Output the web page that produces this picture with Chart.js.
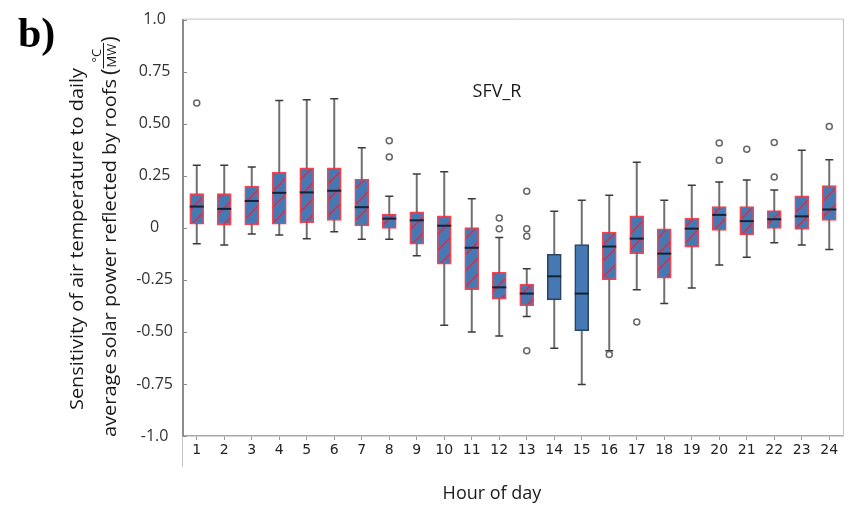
<!DOCTYPE html>
<html>
<head>
<meta charset="utf-8">
<script src="https://cdn.jsdelivr.net/npm/chart.js@4.4.1/dist/chart.umd.min.js"></script>
<style>
  body { margin: 0; background: #fff; }
  #wrap { width: 852px; height: 508px; }
</style>
</head>
<body>
<div id="wrap"><canvas id="boxChart" width="852" height="508"></canvas></div>
<script>
// hours of day
const hours = ['1','2','3','4','5','6','7','8','9','10','11','12','13','14','15','16','17','18','19','20','21','22','23','24'];

// box plot statistics
const whiskerLow = [-0.077, -0.083, -0.030, -0.035, -0.052, -0.019, -0.055, -0.055, -0.134, -0.468, -0.501, -0.520,
                    -0.426, -0.579, -0.753, -0.590, -0.297, -0.363, -0.289, -0.179, -0.142, -0.072, -0.083, -0.104];
const q1 =         [0.017, 0.013, 0.014, 0.017, 0.025, 0.036, 0.009, -0.003, -0.079, -0.175, -0.297, -0.343,
                    -0.374, -0.346, -0.494, -0.249, -0.124, -0.242, -0.093, -0.012, -0.034, -0.003, -0.008, 0.036];
const medians =    [0.102, 0.091, 0.129, 0.168, 0.170, 0.178, 0.099, 0.044, 0.036, 0.010, -0.096, -0.286,
                    -0.316, -0.233, -0.316, -0.090, -0.052, -0.124, -0.004, 0.062, 0.032, 0.041, 0.055, 0.088];
const q3 =         [0.164, 0.164, 0.200, 0.266, 0.288, 0.288, 0.234, 0.066, 0.077, 0.058, 0.001, -0.214,
                    -0.272, -0.127, -0.080, -0.020, 0.058, -0.005, 0.047, 0.102, 0.102, 0.083, 0.154, 0.203];
const whiskerHigh = [0.300, 0.300, 0.292, 0.612, 0.615, 0.620, 0.385, 0.151, 0.258, 0.269, 0.140, -0.046,
                    -0.197, 0.080, 0.132, 0.156, 0.315, 0.132, 0.204, 0.220, 0.230, 0.181, 0.373, 0.327];
const outliers = [[0.60], [], [], [], [], [], [], [0.418, 0.34], [], [], [], [0.047, -0.005],
                  [0.176, -0.005, -0.041, -0.59], [], [], [-0.608], [-0.453], [], [], [0.407, 0.325],
                  [0.377], [0.41, 0.244], [], [0.487]];

// y axis ticks
const yTickValues = [-1, -0.75, -0.5, -0.25, 0, 0.25, 0.5, 0.75, 1];
const yTickLabels = ['-1.0', '-0.75', '-0.50', '-0.25', '0', '0.25', '0.50', '0.75', '1.0'];

// boxes without hatching
const plainHours = ['14', '15'];

const boxBlue = '#4679b3';

function makeHatch() {
  const c = document.createElement('canvas');
  const p = 16;
  c.width = p; c.height = p;
  const g = c.getContext('2d');
  g.fillStyle = boxBlue;
  g.fillRect(0, 0, p, p);
  g.strokeStyle = '#de2a44';
  g.lineWidth = 1.5;
  g.beginPath();
  g.moveTo(-2, p + 2); g.lineTo(p + 2, -2);
  g.moveTo(-2, 2); g.lineTo(2, -2);
  g.moveTo(p - 2, p + 2); g.lineTo(p + 2, p - 2);
  g.stroke();
  return g.createPattern(c, 'repeat');
}

// draws text along the rotated axis, stretched to a given length
function fitText(c, text, len) {
  const w = c.measureText(text).width;
  c.save();
  c.scale(len / w, 1);
  c.fillText(text, 0, 0);
  c.restore();
}

const ctx = document.getElementById('boxChart').getContext('2d');
const hatch = makeHatch();

const boxData = hours.map((h, i) => [q1[i], q3[i]]);
const outlierPoints = [];
hours.forEach((h, i) => {
  outliers[i].forEach(v => outlierPoints.push({ x: h, y: v }));
});

const boxPlugin = {
  id: 'boxParts',
  beforeDatasetsDraw(chart) {
    const c = chart.ctx;
    const xs = chart.scales.x, ys = chart.scales.y;
    c.save();
    hours.forEach((h, i) => {
      const x = xs.getPixelForValue(i);
      const yLo = ys.getPixelForValue(whiskerLow[i]);
      const yHi = ys.getPixelForValue(whiskerHigh[i]);
      c.strokeStyle = '#707070';
      c.lineWidth = 2;
      c.beginPath();
      c.moveTo(x, yHi); c.lineTo(x, yLo);
      c.stroke();
      c.strokeStyle = '#3a3a3a';
      c.lineWidth = 1.5;
      c.beginPath();
      c.moveTo(x - 4, yHi); c.lineTo(x + 4, yHi);
      c.moveTo(x - 4, yLo); c.lineTo(x + 4, yLo);
      c.stroke();
    });
    c.restore();
  },
  afterDatasetsDraw(chart) {
    const c = chart.ctx;
    const xs = chart.scales.x, ys = chart.scales.y;
    const a = chart.chartArea;
    c.save();
    hours.forEach((h, i) => {
      const x = xs.getPixelForValue(i);
      const ym = ys.getPixelForValue(medians[i]);
      c.strokeStyle = '#142434';
      c.lineWidth = 2;
      c.beginPath();
      c.moveTo(x - 7, ym); c.lineTo(x + 7, ym);
      c.stroke();
    });
    // frame top and right
    c.strokeStyle = '#c4c4c4';
    c.lineWidth = 1;
    c.beginPath();
    c.moveTo(a.left, a.top - 0.5); c.lineTo(a.right + 0.5, a.top - 0.5); c.lineTo(a.right + 0.5, a.bottom);
    c.moveTo(a.left - 0.5, a.bottom); c.lineTo(a.left - 0.5, a.bottom + 31);
    c.stroke();
    // small inward ticks on y axis
    c.strokeStyle = '#8c8c8c';
    c.lineWidth = 1;
    c.beginPath();
    yTickValues.forEach(v => {
      const y = Math.round(ys.getPixelForValue(v)) + 0.5;
      c.moveTo(a.left, y); c.lineTo(a.left + 4, y);
    });
    c.stroke();
    c.restore();
  },
  afterDraw(chart) {
    const c = chart.ctx;
    c.save();
    c.fillStyle = '#000';
    c.font = 'bold 42px "Liberation Serif"';
    c.textBaseline = 'alphabetic';
    c.fillText('b)', 18, 47);

    c.fillStyle = '#1a1a1a';
    c.font = '18px "Open Sans"';
    c.textAlign = 'center';
    c.textBaseline = 'middle';
    c.fillText('SFV_R', 497, 92);
    c.fillText('Hour of day', 492, 494);

    // y axis title, two lines
    c.textAlign = 'left';
    c.textBaseline = 'alphabetic';
    c.save();
    c.translate(83, 410);
    c.rotate(-Math.PI / 2);
    c.font = '19px "Open Sans"';
    fitText(c, 'Sensitivity of air temperature to daily', 342);
    c.restore();

    c.save();
    c.translate(116, 437);
    c.rotate(-Math.PI / 2);
    c.font = '19px "Open Sans"';
    const line2 = 'average solar power reflected by roofs';
    fitText(c, line2, 358);
    let px = 362;
    c.font = '22px "Open Sans"';
    c.fillText('(', px, 1);
    px += c.measureText('(').width;
    c.font = '13px "Open Sans"';
    const wMW = c.measureText('MW').width;
    c.textAlign = 'center';
    c.fillText('\u00b0C', px + wMW / 2 + 1, -15);
    c.fillText('MW', px + wMW / 2 + 1, 0);
    c.strokeStyle = '#1a1a1a';
    c.lineWidth = 1;
    c.beginPath();
    c.moveTo(px, -12.5); c.lineTo(px + wMW + 2, -12.5);
    c.stroke();
    px += wMW + 2;
    c.textAlign = 'left';
    c.font = '22px "Open Sans"';
    c.fillText(')', px, 1);
    c.restore();

    c.restore();
  }
};

new Chart(ctx, {
  data: {
    labels: hours,
    datasets: [{
      type: 'bar',
      data: boxData,
      backgroundColor: hours.map(h => plainHours.includes(h) ? boxBlue : hatch),
      borderColor: hours.map(h => plainHours.includes(h) ? '#2a4660' : 'rgba(238, 50, 64, 0.9)'),
      borderWidth: 1.6,
      borderSkipped: false,
      barThickness: 14,
      order: 2
    }, {
      type: 'scatter',
      data: outlierPoints,
      pointRadius: 3,
      pointBorderWidth: 1.5,
      pointBorderColor: '#666',
      pointBackgroundColor: '#fff',
      order: 1
    }]
  },
  options: {
    responsive: false,
    animation: false,
    layout: { padding: { top: 11, right: 9, left: 0, bottom: 0 } },
    plugins: { legend: { display: false }, tooltip: { enabled: false } },
    scales: {
      x: {
        type: 'category',
        offset: true,
        grid: { drawOnChartArea: false, drawTicks: true, tickLength: 4, offset: false, color: '#999' },
        border: { color: '#aaa', width: 1.5 },
        ticks: { font: { family: 'DejaVu Sans', size: 14 }, color: '#222', padding: 2, maxRotation: 0, autoSkip: false },
        afterFit(s) { s.height = 72; }
      },
      y: {
        min: -1,
        max: 1,
        afterBuildTicks(s) { s.ticks = yTickValues.map(v => ({ value: v })); },
        grid: { drawOnChartArea: false, drawTicks: false },
        border: { color: '#8c8c8c', width: 2 },
        ticks: {
          font: { family: 'Open Sans', size: 16 },
          color: '#333',
          crossAlign: 'center',
          padding: 10,
          callback: (v, i) => yTickLabels[i]
        },
        afterFit(s) { s.width = 183; }
      }
    }
  },
  plugins: [boxPlugin]
});
</script>
</body>
</html>
